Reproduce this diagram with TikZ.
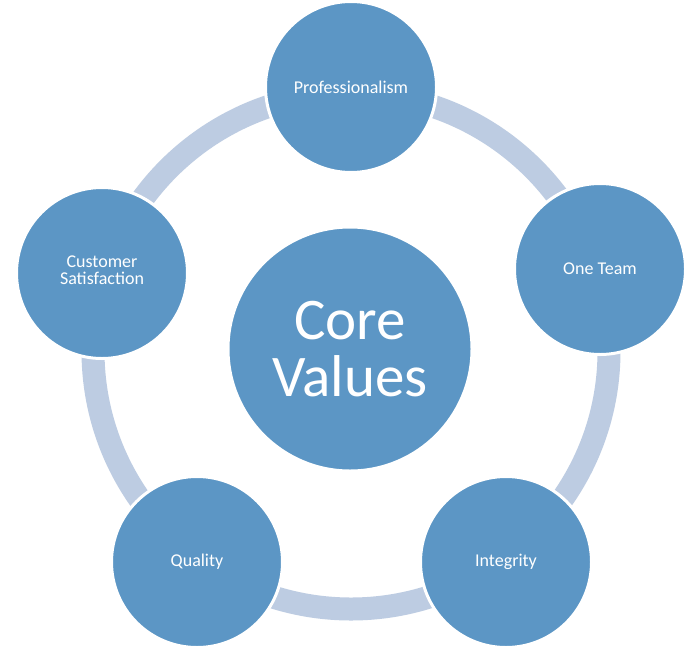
\documentclass[tikz,border=0pt]{standalone}
\usepackage{fontspec}
\setmainfont{Carlito}
\definecolor{bluefill}{RGB}{92,150,197}
\definecolor{ringc}{RGB}{189,204,226}
\tikzset{
  valuenode/.style={circle, fill=bluefill, draw=white, line width=3pt, minimum size=171pt, inner sep=0pt, text=white, align=center, font=\fontsize{18}{17}\selectfont},
  corenode/.style={circle, fill=bluefill, draw=white, line width=3pt, minimum size=244pt, inner sep=0pt, text=white, align=center, font=\fontsize{59}{57}\selectfont},
  ringline/.style={draw=ringc, line width=23pt}
}
\begin{document}
\begin{tikzpicture}[x=1pt, y=-1pt]
\useasboundingbox[fill=white] (0,0) rectangle (700,653);
\coordinate (ctr) at (351,351);
\draw[ringline] (ctr) circle (258pt);
\node[corenode] (core) at (350,349) {Core\\Values};
\node[valuenode] (prof) at (351,87) {Professionalism};
\node[valuenode] (team) at (600,269) {One Team};
\node[valuenode] (integ) at (506,562) {Integrity};
\node[valuenode] (qual) at (197,562) {Quality};
\node[valuenode] (cust) at (102,273) {};
\node[text=white, align=center, font=\fontsize{18}{17}\selectfont] (custtext) at ([yshift=3pt]cust.center) {Customer\\Satisfaction};
\end{tikzpicture}
\end{document}
